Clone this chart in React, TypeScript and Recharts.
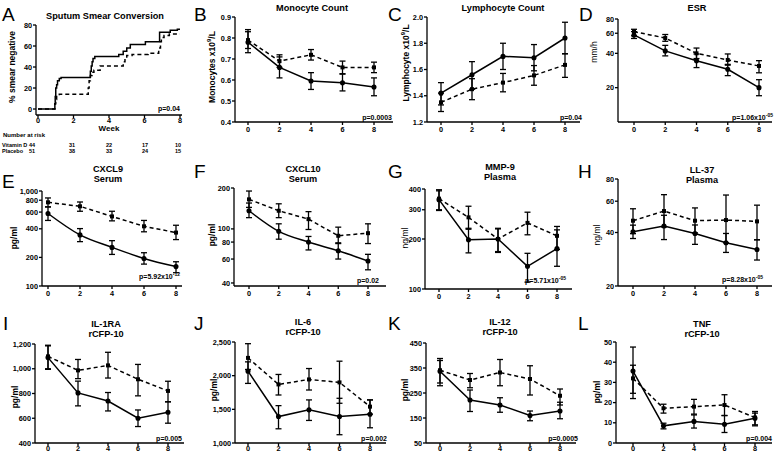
import React from 'react';
import { LineChart, Line, XAxis, YAxis, ErrorBar } from 'recharts';

const FONT = '"Liberation Sans", Arial, sans-serif';
const weeks = [0, 2, 4, 6, 8];

// A: sputum smear conversion (Kaplan-Meier steps)
const kmVitDWeek = [0, 0.95, 0.97, 1.0, 1.05, 1.1, 1.2, 1.3, 2.95, 3.0, 3.05, 3.1, 3.2, 4.55, 4.8, 5.0, 5.2, 6.05, 6.85, 7.45, 7.85, 8.0];
const kmVitDPct = [0, 5, 12, 20, 23, 27, 29, 30, 36, 41, 45, 48, 50, 52, 55, 58, 61.5, 64, 73, 75, 76, 76];
const kmPlacWeek = [0, 0.95, 1.0, 1.05, 1.2, 2.83, 2.88, 2.95, 3.05, 3.15, 3.5, 4.8, 4.9, 5.0, 5.3, 6.2, 6.8, 6.9, 6.95, 7.1, 7.4, 8.0];
const kmPlacPct = [0, 5, 9, 12, 14, 20, 27, 32, 35, 37, 41, 45, 48, 51, 52, 53, 58, 64, 68, 70, 71.5, 71.5];
const riskVitD = [44, 31, 22, 17, 10];
const riskPlacebo = [51, 38, 33, 24, 15];

// B: monocyte count
const monoVitD = [0.78, 0.66, 0.595, 0.587, 0.567];
const monoVitDRange = [[0.73, 0.83], [0.61, 0.71], [0.555, 0.635], [0.548, 0.628], [0.525, 0.61]];
const monoPlacebo = [0.79, 0.69, 0.72, 0.66, 0.66];
const monoPlaceboRange = [[0.75, 0.84], [0.66, 0.72], [0.695, 0.745], [0.63, 0.69], [0.635, 0.685]];

// C: lymphocyte count
const lymVitD = [1.42, 1.56, 1.7, 1.69, 1.84];
const lymVitDRange = [[1.33, 1.5], [1.45, 1.66], [1.6, 1.8], [1.59, 1.79], [1.72, 1.96]];
const lymPlacebo = [1.35, 1.45, 1.5, 1.555, 1.635];
const lymPlaceboRange = [[1.28, 1.42], [1.37, 1.53], [1.43, 1.57], [1.48, 1.63], [1.54, 1.72]];

// D: ESR
const esrVitD = [58, 42, 34.5, 29, 20];
const esrVitDRange = [[54, 62], [38, 47], [30, 39.5], [25.5, 32], [17, 23.5]];
const esrPlacebo = [62, 54.5, 40, 35, 31];
const esrPlaceboRange = [[57, 65], [51, 58.5], [36, 44.5], [31.5, 39.5], [27, 34.5]];

// E: CXCL9 serum
const cxcl9VitD = [580, 345, 255, 195, 160];
const cxcl9VitDRange = [[490, 680], [293, 402], [215, 300], [170, 224], [138, 180]];
const cxcl9Placebo = [760, 690, 540, 425, 365];
const cxcl9PlaceboRange = [[680, 845], [612, 766], [485, 612], [372, 490], [308, 436]];

// F: CXCL10 serum
const cxcl10VitD = [136, 96, 80, 69, 58];
const cxcl10VitDRange = [[121, 155], [84, 109], [70, 88], [60, 79], [50, 65]];
const cxcl10Placebo = [165, 136, 118, 89, 93];
const cxcl10PlaceboRange = [[144, 190], [121, 153], [99, 134], [78, 103], [78, 109]];

// G: MMP-9 plasma
const mmpVitD = [345, 198, 200, 137, 175];
const mmpVitDRange = [[297, 396], [165, 232], [166, 232], [110, 164], [137, 227]];
const mmpPlacebo = [350, 270, 200, 250, 209];
const mmpPlaceboRange = [[300, 390], [229, 315], [168, 230], [212, 290], [173, 238]];

// H: LL-37 plasma
const llVitD = [40.4, 43.5, 39.5, 35, 32.1];
const llVitDRange = [[37, 44], [36.5, 50], [34.3, 44.1], [30.9, 39.5], [28, 36.4]];
const llPlacebo = [46.6, 52.8, 46.6, 47, 46.2];
const llPlaceboRange = [[39.4, 54.4], [43, 65.3], [39.8, 55], [35, 65], [36.4, 57]];

// I: IL-1RA
const il1VitD = [1090, 805, 739, 600, 648];
const il1VitDRange = [[995, 1185], [700, 900], [659, 808], [533, 667], [560, 733]];
const il1Placebo = [1100, 987, 1027, 915, 821];
const il1PlaceboRange = [[1000, 1190], [920, 1075], [925, 1133], [781, 1035], [733, 899]];

// J: IL-6
const il6VitD = [2067, 1393, 1492, 1393, 1428];
const il6VitDRange = [[1885, 2205], [1211, 1555], [1335, 1640], [1123, 1664], [1226, 1640]];
const il6Placebo = [2264, 1870, 1944, 1900, 1540];
const il6PlaceboRange = [[2092, 2475], [1713, 2018], [1787, 2106], [1590, 2215], [1428, 1640]];

// K: IL-12
const il12VitD = [337, 222, 202, 160, 178];
const il12VitDRange = [[290, 380], [176, 262], [173, 231], [139, 178], [147, 213]];
const il12Placebo = [341, 302, 332, 306, 239];
const il12PlaceboRange = [[279, 388], [271, 328], [279, 384], [242, 359], [202, 266]];

// L: TNF
const tnfVitD = [35.6, 8.5, 10.7, 9.3, 12.3];
const tnfVitDRange = [[22, 47.5], [7, 9.8], [7.4, 13.9], [5.2, 13.6], [8.5, 14.8]];
const tnfPlacebo = [32, 17.2, 18, 18.8, 12.6];
const tnfPlaceboRange = [[24.6, 38.5], [14.8, 19.2], [14.3, 21.6], [13.6, 23.9], [9, 15.6]];

const YW = 40;
const XH = 20;
const MT = 4;
const MR = 2;

const comma = (v: number) => v.toLocaleString('en-US');
const oneDec = (v: number) => v.toFixed(1);

function rows(vd: number[], vdR: number[][], pl: number[], plR: number[][]) {
  return weeks.map((w, i) => ({
    week: w,
    vd: vd[i],
    vdErr: [vd[i] - vdR[i][0], vdR[i][1] - vd[i]],
    pl: pl[i],
    plErr: [pl[i] - plR[i][0], plR[i][1] - pl[i]],
  }));
}

// box: y-axis x, top px, bottom px, x=0 px, x=8 px, axis right end px
type Box = { yx: number; top: number; bottom: number; x0: number; x8: number; right: number };

const panels = [
  { key: 'B', box: { yx: 235, top: 17, bottom: 122, x0: 248, x8: 374, right: 393 }, data: rows(monoVitD, monoVitDRange, monoPlacebo, monoPlaceboRange), domain: [0.4, 0.9], ticks: [0.4, 0.5, 0.6, 0.7, 0.8, 0.9], fmt: oneDec },
  { key: 'C', box: { yx: 427, top: 17, bottom: 122, x0: 441, x8: 565, right: 580 }, data: rows(lymVitD, lymVitDRange, lymPlacebo, lymPlaceboRange), domain: [1.2, 2.0], ticks: [1.2, 1.4, 1.6, 1.8, 2.0], fmt: oneDec },
  { key: 'D', box: { yx: 618, top: 19, bottom: 122, x0: 634, x8: 759, right: 772 }, data: rows(esrVitD, esrVitDRange, esrPlacebo, esrPlaceboRange), domain: [10, 80], ticks: [20, 40, 60, 80], log: true },
  { key: 'E', box: { yx: 42, top: 191, bottom: 286, x0: 48, x8: 176, right: 182 }, data: rows(cxcl9VitD, cxcl9VitDRange, cxcl9Placebo, cxcl9PlaceboRange), domain: [100, 1000], ticks: [100, 200, 400, 600, 800, 1000], log: true, fmt: comma, curved: true },
  { key: 'F', box: { yx: 234, top: 188, bottom: 286, x0: 249, x8: 368, right: 386 }, data: rows(cxcl10VitD, cxcl10VitDRange, cxcl10Placebo, cxcl10PlaceboRange), domain: [38, 200], ticks: [40, 60, 80, 100, 200], log: true, curved: true },
  { key: 'G', box: { yx: 425, top: 189, bottom: 289, x0: 439, x8: 557, right: 572 }, data: rows(mmpVitD, mmpVitDRange, mmpPlacebo, mmpPlaceboRange), domain: [100, 400], ticks: [100, 200, 300, 400], log: true },
  { key: 'H', box: { yx: 618, top: 179, bottom: 286, x0: 633, x8: 757, right: 772 }, data: rows(llVitD, llVitDRange, llPlacebo, llPlaceboRange), domain: [20, 80], ticks: [20, 40, 60, 80], log: true },
  { key: 'I', box: { yx: 35, top: 344, bottom: 443, x0: 48, x8: 168, right: 184 }, data: rows(il1VitD, il1VitDRange, il1Placebo, il1PlaceboRange), domain: [400, 1200], ticks: [400, 600, 800, 1000, 1200], fmt: comma, low: true },
  { key: 'J', box: { yx: 235, top: 342, bottom: 443, x0: 248, x8: 370, right: 386 }, data: rows(il6VitD, il6VitDRange, il6Placebo, il6PlaceboRange), domain: [1000, 2500], ticks: [1000, 1500, 2000, 2500], fmt: comma, low: true },
  { key: 'K', box: { yx: 426, top: 343, bottom: 443, x0: 440, x8: 560, right: 576 }, data: rows(il12VitD, il12VitDRange, il12Placebo, il12PlaceboRange), domain: [50, 450], ticks: [50, 150, 250, 350, 450], low: true },
  { key: 'L', box: { yx: 616, top: 342, bottom: 443, x0: 633, x8: 755, right: 772 }, data: rows(tnfVitD, tnfVitDRange, tnfPlacebo, tnfPlaceboRange), domain: [0, 50], ticks: [0, 10, 20, 30, 40, 50], low: true },
];

const tickStyle = { fontSize: 7.3, fontWeight: 700, fill: '#000', fontFamily: FONT };
const axisLine = { stroke: '#000', strokeWidth: 1.3 };

function xDomain(b: Box): [number, number] {
  const ppu = (b.x8 - b.x0) / 8;
  return [(b.yx - b.x0) / ppu, 8 + (b.right - b.x8) / ppu];
}

const Square = (p: any) => {
  if (p.cx == null || p.cy == null) return <g key={p.key} />;
  return <rect key={p.key} x={p.cx - 2} y={p.cy - 2} width={4} height={4} fill="#000" />;
};

function Frame({ b, children }: { b: Box; children: React.ReactNode }) {
  return (
    <div style={{ position: 'absolute', left: b.yx - YW, top: b.top - MT }}>{children}</div>
  );
}

function Panel({ p }: { p: any }) {
  const b: Box = p.box;
  return (
    <Frame b={b}>
      <LineChart
        width={YW + (b.right - b.yx) + MR}
        height={MT + (b.bottom - b.top) + XH}
        data={p.data}
        margin={{ top: MT, right: MR, bottom: 0, left: 0 }}
      >
        <XAxis dataKey="week" type="number" domain={xDomain(b)} ticks={weeks} allowDataOverflow interval={0}
          height={XH} tick={tickStyle} tickSize={3} tickMargin={p.low ? 0 : 2} axisLine={axisLine} tickLine={axisLine} />
        <YAxis type="number" scale={p.log ? 'log' : 'linear'} domain={p.domain} ticks={p.ticks} allowDataOverflow
          interval={0} width={YW} tick={tickStyle} tickSize={3} tickMargin={1} axisLine={axisLine} tickLine={axisLine}
          tickFormatter={p.fmt || ((v: number) => String(v))} />
        <Line dataKey="pl" type="linear" stroke="#000" strokeWidth={1.5} strokeDasharray="4 3"
          dot={Square} isAnimationActive={false}>
          <ErrorBar dataKey="plErr" direction="y" width={3} strokeWidth={1.3} stroke="#000" />
        </Line>
        <Line dataKey="vd" type={p.curved ? 'monotone' : 'linear'} stroke="#000" strokeWidth={1.5}
          dot={{ r: 1.8, fill: '#000', stroke: '#000' }} isAnimationActive={false}>
          <ErrorBar dataKey="vdErr" direction="y" width={3} strokeWidth={1.3} stroke="#000" />
        </Line>
      </LineChart>
    </Frame>
  );
}

function SmearPanel() {
  const b: Box = { yx: 36, top: 25, bottom: 115, x0: 38, x8: 180, right: 182 };
  const vd = kmVitDWeek.map((w, i) => ({ week: w, pct: kmVitDPct[i] }));
  const pl = kmPlacWeek.map((w, i) => ({ week: w, pct: kmPlacPct[i] }));
  return (
    <Frame b={b}>
      <LineChart width={YW + (b.right - b.yx) + MR} height={MT + (b.bottom - b.top) + XH}
        margin={{ top: MT, right: MR, bottom: 0, left: 0 }}>
        <XAxis dataKey="week" type="number" domain={xDomain(b)} ticks={weeks} allowDataOverflow interval={0}
          height={XH} tick={tickStyle} tickSize={3} tickMargin={0} axisLine={axisLine} tickLine={axisLine} />
        <YAxis type="number" domain={[-5.7, 80]} ticks={[0, 20, 40, 60, 80]} allowDataOverflow interval={0}
          width={YW} tick={tickStyle} tickSize={3} tickMargin={1} axisLine={axisLine} tickLine={axisLine} />
        <Line data={pl} dataKey="pct" type="stepAfter" stroke="#000" strokeWidth={1.5} strokeDasharray="4 3"
          dot={false} isAnimationActive={false} />
        <Line data={vd} dataKey="pct" type="stepAfter" stroke="#000" strokeWidth={1.5}
          dot={false} isAnimationActive={false} />
      </LineChart>
    </Frame>
  );
}

const letters = [
  ['A', 2, 21], ['B', 194, 21], ['C', 388, 21], ['D', 579, 21],
  ['E', 2, 188], ['F', 194, 178], ['G', 388, 178], ['H', 578, 178],
  ['I', 3, 330], ['J', 194, 330], ['K', 388, 330], ['L', 578, 330],
];

const titles: [string, number, number][] = [
  ['Sputum Smear Conversion', 105, 19], ['Monocyte Count', 312, 11], ['Lymphocyte Count', 503, 11], ['ESR', 697, 11],
  ['CXCL9', 108, 171.5], ['Serum', 108, 181.5], ['CXCL10', 303, 171.5], ['Serum', 303, 181.5],
  ['MMP-9', 500, 169.5], ['Plasma', 500, 179.5], ['LL-37', 702, 172.5], ['Plasma', 702, 182.5],
  ['IL-1RA', 106, 326.5], ['rCFP-10', 106, 336.5], ['IL-6', 303, 324.5], ['rCFP-10', 303, 334.5],
  ['IL-12', 500, 324.5], ['rCFP-10', 500, 334.5], ['TNF', 702, 326.5], ['rCFP-10', 702, 336.5],
];

const yLabels: [string, number, number, boolean][] = [
  ['% smear negative', 12, 67, true], ['mm/h', 594, 52, false],
  ['pg/ml', 14, 238, true], ['pg/ml', 212, 235, true], ['ng/ml', 405, 238, false], ['ng/ml', 597, 235, false],
  ['pg/ml', 15, 397, true], ['pg/ml', 214, 390, true], ['pg/ml', 405, 390, true], ['pg/ml', 597, 392, true],
];

const pSimple: [string, number, number][] = [
  ['p=0.04', 180, 111], ['p=0.0003', 392, 120], ['p=0.04', 582, 120],
  ['p=0.02', 379, 283], ['p=0.005', 182, 441], ['p=0.002', 387, 441],
  ['p=0.0005', 578, 441], ['p=0.004', 772, 441],
];
const pExp: [string, string, number, number][] = [
  ['p=1.06x10', '-05', 773, 120], ['p=5.92x10', '-12', 180, 279],
  ['p=5.71x10', '-05', 566, 283], ['p=8.28x10', '-05', 763, 282],
];

function Overlay() {
  const riskX = [32, 72, 109, 145, 178];
  return (
    <svg width={776} height={456} style={{ position: 'absolute', left: 0, top: 0, pointerEvents: 'none' }}
      fontFamily={FONT}>
      {letters.map(([t, x, y]) => (
        <text key={`l${t}`} x={x as number} y={y as number} fontSize={19} fill="#000">{t}</text>
      ))}
      {titles.map(([t, x, y], i) => (
        <text key={`t${i}`} x={x} y={y} fontSize={9.2} fontWeight={700} textAnchor="middle" fill="#000">{t}</text>
      ))}
      {yLabels.map(([t, x, y, bold], i) => (
        <text key={`y${i}`} x={x} y={y} fontSize={8.5} fontWeight={bold ? 700 : 400} textAnchor="middle"
          dominantBaseline="central" transform={`rotate(-90 ${x} ${y})`} fill="#000">{t}</text>
      ))}
      <text x={212} y={67} fontSize={8.5} fontWeight={700} textAnchor="middle" dominantBaseline="central"
        transform="rotate(-90 212 67)" fill="#000">
        Monocytes x10<tspan dy={-3} fontSize={6}>9</tspan><tspan dy={3}>/L</tspan>
      </text>
      <text x={406} y={63} fontSize={8.5} fontWeight={700} textAnchor="middle" dominantBaseline="central"
        transform="rotate(-90 406 63)" fill="#000">
        Lymphocyte x10<tspan dy={-3} fontSize={6}>9</tspan><tspan dy={3}>/L</tspan>
      </text>
      {pSimple.map(([t, x, y], i) => (
        <text key={`p${i}`} x={x} y={y} fontSize={7} fontWeight={700} textAnchor="end" fill="#000">{t}</text>
      ))}
      {pExp.map(([t, e, x, y], i) => (
        <text key={`e${i}`} x={x} y={y} fontSize={7} fontWeight={700} textAnchor="end" fill="#000">
          {t}<tspan dy={-3} fontSize={5}>{e}</tspan>
        </text>
      ))}
      <text x={109} y={131} fontSize={8} fontWeight={700} textAnchor="middle" fill="#000">Week</text>
      <text x={3} y={137} fontSize={6} fontWeight={700} fill="#000">Number at risk</text>
      <text x={2} y={146.5} fontSize={5.5} fontWeight={700} fill="#000">Vitamin D</text>
      <text x={2} y={152.5} fontSize={5.5} fontWeight={700} fill="#000">Placebo</text>
      {riskVitD.map((n, i) => (
        <text key={`rv${i}`} x={riskX[i]} y={146.5} fontSize={5.5} fontWeight={700} textAnchor="middle" fill="#000">{n}</text>
      ))}
      {riskPlacebo.map((n, i) => (
        <text key={`rp${i}`} x={riskX[i]} y={152.5} fontSize={5.5} fontWeight={700} textAnchor="middle" fill="#000">{n}</text>
      ))}
    </svg>
  );
}

export default function App() {
  return (
    <div style={{ position: 'absolute', left: 0, top: 0, width: 776, height: 456, background: '#fff', fontFamily: FONT }}>
      <SmearPanel />
      {panels.map((p) => <Panel key={p.key} p={p} />)}
      <Overlay />
    </div>
  );
}
